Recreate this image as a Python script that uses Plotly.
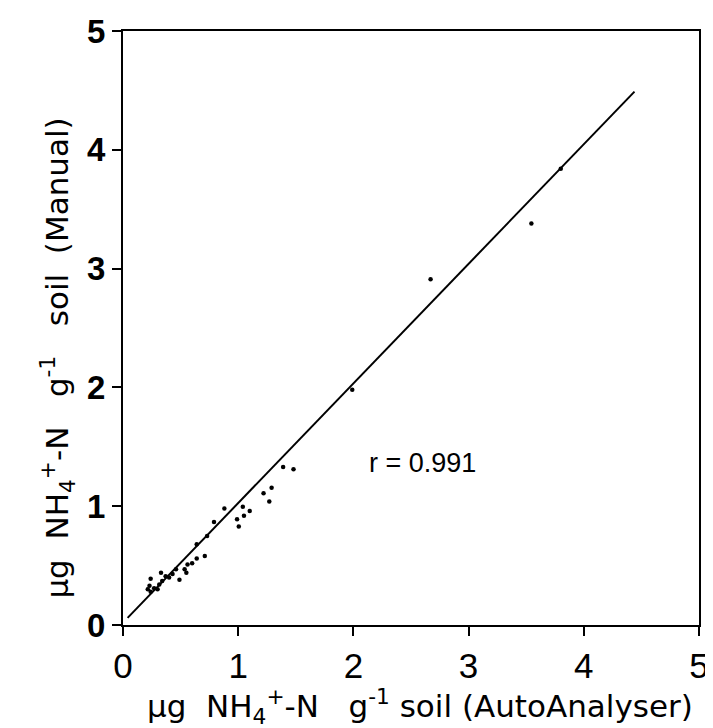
import plotly.graph_objects as go

# AutoAnalyser (x) vs Manual (y), µg NH4+-N g-1 soil
x_auto = [0.215, 0.23, 0.24, 0.24, 0.27, 0.30, 0.315, 0.33, 0.34, 0.37, 0.40, 0.43,
          0.46, 0.49, 0.535, 0.55, 0.56, 0.60, 0.64, 0.64, 0.71, 0.73, 0.79, 0.88,
          0.99, 1.005, 1.04, 1.05, 1.10, 1.22, 1.27, 1.29, 1.39, 1.48, 1.99, 2.67,
          3.545, 3.80]
y_manual = [0.30, 0.33, 0.39, 0.28, 0.31, 0.30, 0.34, 0.44, 0.37, 0.41, 0.40, 0.43,
            0.47, 0.38, 0.47, 0.44, 0.51, 0.52, 0.56, 0.68, 0.58, 0.75, 0.866, 0.98,
            0.89, 0.83, 0.995, 0.92, 0.96, 1.11, 1.04, 1.155, 1.33, 1.31, 1.98, 2.91,
            3.38, 3.84]

# regression line endpoints
line_x = [0.04, 4.44]
line_y = [0.06, 4.49]

tick_vals = [0, 1, 2, 3, 4, 5]
tick_text = ["0", "1", "2", "3", "4", "5"]
r_label = "r = 0.991"
x_title = "µg  NH<sub>4</sub><sup>+</sup>-N   g<sup>-1</sup> soil (AutoAnalyser)"
y_title = "µg  NH<sub>4</sub><sup>+</sup>-N   g<sup>-1</sup>   soil  (Manual)"

FONT = "Liberation Sans, Arial, sans-serif"
TFONT = "DejaVu Sans, sans-serif"

fig = go.Figure()
fig.add_trace(go.Scatter(x=line_x, y=line_y, mode="lines",
                         line=dict(color="black", width=2), showlegend=False))
fig.add_trace(go.Scatter(x=x_auto, y=y_manual, mode="markers",
                         marker=dict(color="black", size=4.5), showlegend=False))

fig.update_xaxes(range=[0, 5], tickvals=tick_vals, ticktext=tick_text,
                 showline=True, linecolor="black", linewidth=2, mirror=True,
                 ticks="outside", ticklen=9, tickwidth=2, tickcolor="black",
                 showgrid=False, zeroline=False, automargin=False,
                 tickfont=dict(family=FONT, size=35, color="black"))
fig.update_yaxes(range=[0, 5], tickvals=tick_vals, ticktext=tick_text,
                 showline=True, linecolor="black", linewidth=2, mirror=True,
                 ticks="outside", ticklen=9, tickwidth=2, tickcolor="black",
                 showgrid=False, zeroline=False, automargin=False,
                 tickfont=dict(family=FONT, size=33, color="black", weight="bold"))

fig.add_annotation(text=x_title, xref="paper", yref="paper", x=0.515, y=-0.137,
                   showarrow=False, font=dict(family=TFONT, size=31, color="black"),
                   xanchor="center", yanchor="middle")
fig.add_annotation(text=y_title, xref="paper", yref="paper", x=-0.113, y=0.45,
                   textangle=-90, showarrow=False,
                   font=dict(family=TFONT, size=31, color="black"),
                   xanchor="center", yanchor="middle")
fig.add_annotation(text=r_label, x=2.6, y=1.36, xref="x", yref="y",
                   showarrow=False, font=dict(family=FONT, size=27, color="black"))

fig.update_layout(width=713, height=728,
                  margin=dict(l=115, r=22, t=23, b=111),
                  plot_bgcolor="white", paper_bgcolor="white")

fig.write_html("out.html")
